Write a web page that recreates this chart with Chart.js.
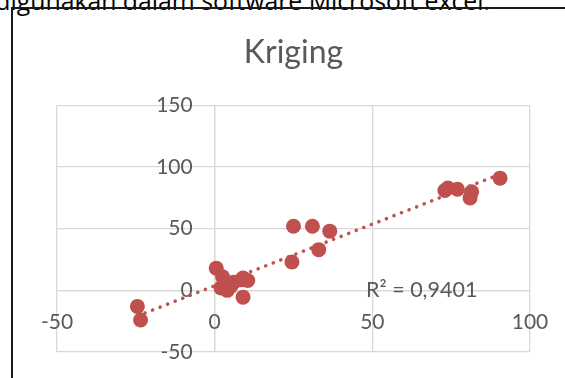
<!DOCTYPE html>
<html>
<head>
<meta charset="utf-8">
<script src="https://cdn.jsdelivr.net/npm/chart.js@4.4.1/dist/chart.umd.min.js"></script>
<style>
  html, body { margin: 0; padding: 0; background: #fff; overflow: hidden; }
  #page { position: relative; width: 565px; height: 378px; overflow: hidden; }
  #caption { position: absolute; right: 75px; top: -17px; white-space: nowrap; font: 24.8px "Open Sans", sans-serif; color: #000; }
  #frame { position: absolute; left: 11px; top: 7px; width: 600px; height: 420px; border: 2px solid #1a1a1a; box-sizing: border-box; }
  #chartBox { position: absolute; left: 0; top: 0; width: 565px; height: 378px; }
</style>
</head>
<body>
<div id="page">
  <div id="caption">digunakan dalam software Microsoft excel.</div>
  <div id="frame"></div>
  <div id="chartBox"><canvas id="krigingChart" width="565" height="378"></canvas></div>
</div>
<script>
// values
const xValues = [-24.5, -23.5, 0.5, 2.5, 2, 4, 6, 9, 10.5, 8.5, 9, 3, 5, 25, 31, 36.5, 24.5, 33, 73, 74, 77, 81.5, 81, 90.5];
const yValues = [-13, -24, 18, 11, 2, 0, 6.5, 10, 8, 8.5, -5.5, 4, 3, 52, 52, 48, 23, 33, 81, 83, 82, 80, 75, 91];
const xTicks = [-50, 0, 50, 100];
const yTicks = [-50, 0, 50, 100, 150];
const rSquaredLabel = "R² = 0,9401";

const points = xValues.map((x, i) => ({ x: x, y: yValues[i] }));

// least squares trendline, like excel's linear trendline
function linearFit(xs, ys) {
  const n = xs.length;
  const mx = xs.reduce((a, b) => a + b, 0) / n;
  const my = ys.reduce((a, b) => a + b, 0) / n;
  let sxy = 0, sxx = 0;
  for (let i = 0; i < n; i++) {
    sxy += (xs[i] - mx) * (ys[i] - my);
    sxx += (xs[i] - mx) * (xs[i] - mx);
  }
  const slope = sxy / sxx;
  return { slope: slope, intercept: my - slope * mx };
}
const fit = linearFit(xValues, yValues);
const xMin = Math.min(...xValues), xMax = Math.max(...xValues);
const trendPoints = [
  { x: xMin, y: fit.slope * xMin + fit.intercept },
  { x: xMax, y: fit.slope * xMax + fit.intercept }
];

const fontFamily = "Lato, 'Open Sans', sans-serif";
const gridColor = "#d9d9d9";
const textColor = "#595959";

// excel puts the tick labels next to the crossing axes, chart.js hugs them too tight
const axisLabels = {
  id: "axisLabels",
  beforeDatasetsDraw(chart) {
    const { ctx, scales: { x, y } } = chart;
    const x0 = x.getPixelForValue(0);
    const y0 = y.getPixelForValue(0);
    ctx.save();
    ctx.font = "21px " + fontFamily;
    ctx.fillStyle = textColor;
    ctx.textAlign = "right";
    ctx.textBaseline = "middle";
    yTicks.forEach(v => ctx.fillText(String(v), x0 - 22, y.getPixelForValue(v)));
    ctx.textAlign = "center";
    xTicks.forEach(v => ctx.fillText(String(v), x.getPixelForValue(v), y0 + 32));
    ctx.restore();
  },
  afterDatasetsDraw(chart) {
    const ctx = chart.ctx;
    ctx.save();
    ctx.font = "21.5px " + fontFamily;
    ctx.fillStyle = textColor;
    ctx.textAlign = "left";
    ctx.textBaseline = "alphabetic";
    ctx.fillText(rSquaredLabel, 366, 297);
    ctx.restore();
  }
};

new Chart(document.getElementById("krigingChart"), {
  type: "scatter",
  data: {
    datasets: [
      {
        label: "Kriging",
        data: points,
        backgroundColor: "#C0504D",
        borderWidth: 0,
        pointRadius: 7.5,
        pointHoverRadius: 7.5,
        order: 1
      },
      {
        label: "trend",
        type: "line",
        data: trendPoints,
        borderColor: "#C0504D",
        borderWidth: 3.5,
        borderDash: [0.1, 8],
        borderCapStyle: "round",
        pointRadius: 0,
        fill: false,
        order: 2
      }
    ]
  },
  options: {
    responsive: false,
    animation: false,
    layout: { padding: { left: 57, right: 35, top: 20, bottom: 26 } },
    plugins: {
      legend: { display: false },
      tooltip: { enabled: false },
      title: {
        display: true,
        text: "Kriging",
        color: textColor,
        font: { family: fontFamily, size: 32, weight: "normal" },
        padding: { top: 13, bottom: 34 }
      }
    },
    scales: {
      x: {
        type: "linear",
        min: -50,
        max: 100,
        position: { y: 0 },
        afterBuildTicks: (scale) => { scale.ticks = xTicks.map(v => ({ value: v })); },
        grid: { color: gridColor, lineWidth: 1.3, drawTicks: false },
        border: { display: true, color: gridColor, width: 1.3 },
        ticks: { display: false }
      },
      y: {
        type: "linear",
        min: -50,
        max: 150,
        position: { x: 0 },
        afterBuildTicks: (scale) => { scale.ticks = yTicks.map(v => ({ value: v })); },
        grid: { color: gridColor, lineWidth: 1.3, drawTicks: false },
        border: { display: true, color: gridColor, width: 1.3 },
        ticks: { display: false }
      }
    }
  },
  plugins: [axisLabels]
});
</script>
</body>
</html>
